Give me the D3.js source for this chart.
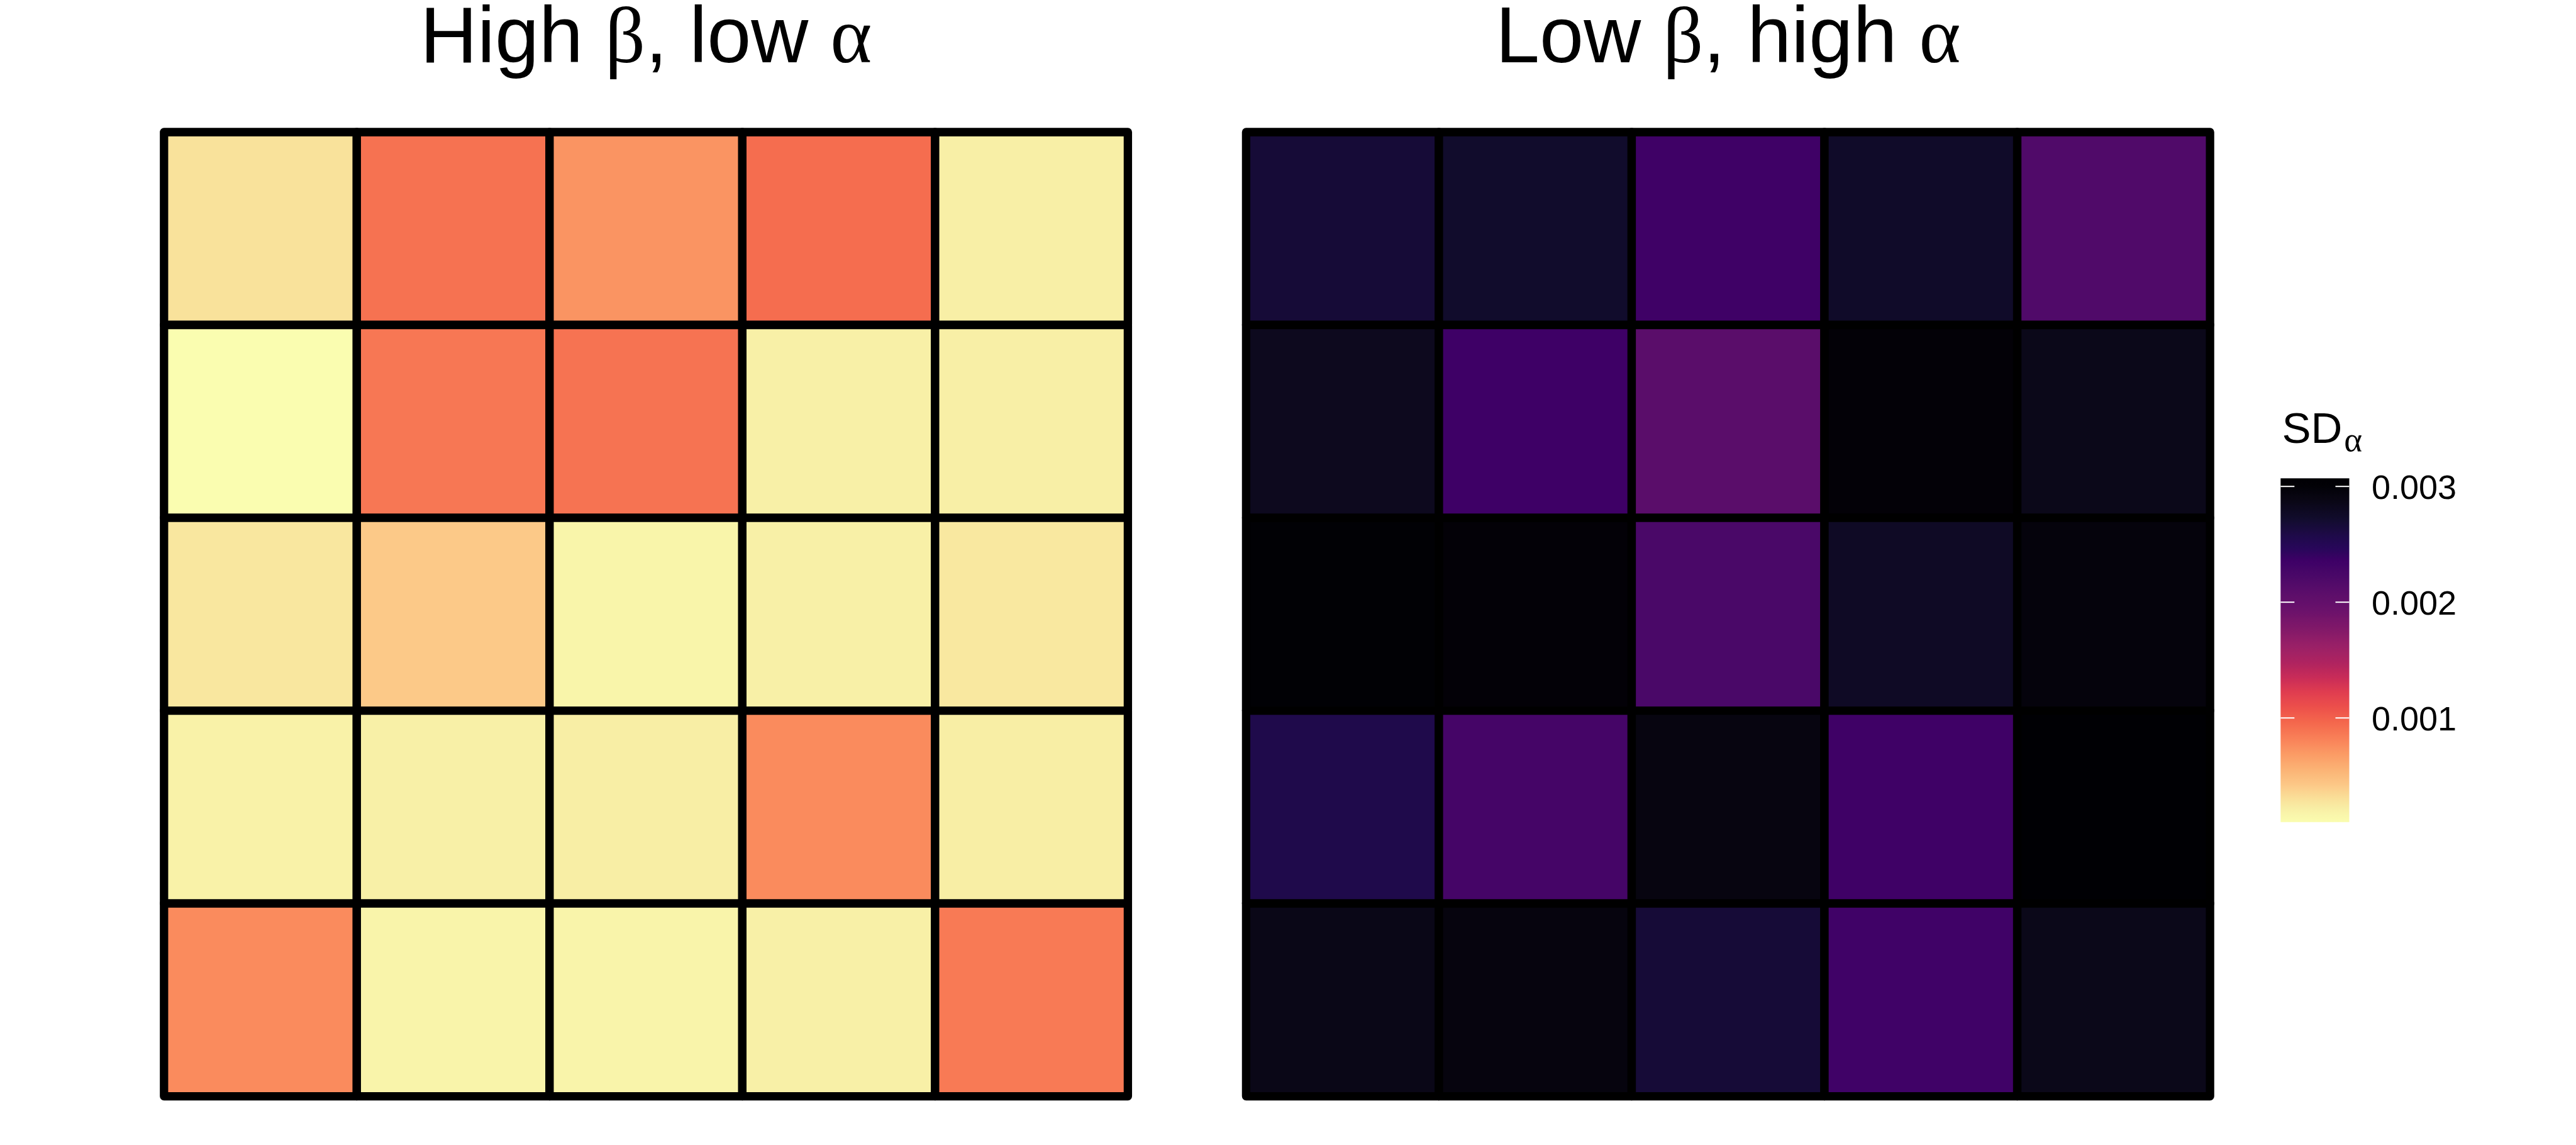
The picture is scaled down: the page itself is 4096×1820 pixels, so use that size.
<!DOCTYPE html>
<html>
<head>
<meta charset="utf-8">
<script src="https://cdn.jsdelivr.net/npm/d3@7"></script>
<style>
  html, body { margin: 0; padding: 0; background: #ffffff; }
  svg { display: block; }
</style>
</head>
<body>
<svg id="chart" width="4096" height="1820"></svg>
<script>
// ---------------- data ----------------
const rowCats = ["1", "2", "3", "4", "5"];   // top to bottom
const colCats = ["1", "2", "3", "4", "5"];   // left to right

const panelTitles = [
  ["High ", "β", ", low ", "α"],
  ["Low ", "β", ", high ", "α"]
];

// SD_alpha values, panel 1: High beta, low alpha (rows top->bottom)
const highBetaLowAlpha = [
  [0.000287, 0.000902, 0.000724, 0.000926, 0.000213],
  [0.000100, 0.000872, 0.000896, 0.000204, 0.000213],
  [0.000263, 0.000415, 0.000165, 0.000204, 0.000254],
  [0.000189, 0.000204, 0.000219, 0.000768, 0.000219],
  [0.000768, 0.000171, 0.000171, 0.000204, 0.000857]
];

// SD_alpha values, panel 2: Low beta, high alpha
const lowBetaHighAlpha = [
  [0.002669, 0.002728, 0.002342, 0.002743, 0.002179],
  [0.002818, 0.002357, 0.002090, 0.002996, 0.002847],
  [0.003025, 0.002996, 0.002224, 0.002773, 0.002951],
  [0.002565, 0.002283, 0.002922, 0.002342, 0.003070],
  [0.002862, 0.002936, 0.002669, 0.002328, 0.002847]
];

const legendTicks = [0.001, 0.002, 0.003];
const legendTitle = ["SD", "α"];

// colour palette (reversed magma as rendered), light -> dark along the scale
const paletteStops = [0, 0.041, 0.073, 0.106, 0.152, 0.198, 0.244, 0.29, 0.336, 0.382,
  0.421, 0.46, 0.513, 0.565, 0.618, 0.67, 0.716, 0.762, 0.795, 0.828, 0.88, 0.932, 0.978, 1];
const paletteColors = ["#FAFDB0", "#F8EEA5", "#FADD97", "#FCC988", "#FBB375", "#FB9B65",
  "#F98058", "#F4674C", "#EC4F4B", "#DE3B50", "#C82C58", "#B1245F", "#992067", "#801869",
  "#6A116B", "#5A0D6A", "#4A0868", "#3D0066", "#28075A", "#200A4C", "#120C2E", "#0A0716",
  "#020106", "#000004"];

// ---------------- layout ----------------
const W = 4096, H = 1820;
const sansFont = "'Liberation Sans', Arial, Helvetica, sans-serif";
const greekFont = "'Liberation Serif', 'Times New Roman', serif";

const panels = [
  { title: panelTitles[0], values: highBetaLowAlpha, x0: 260.8, x1: 1793.4 },
  { title: panelTitles[1], values: lowBetaHighAlpha, x0: 1981.4, x1: 3514.1 }
];
const y0 = 210.0, y1 = 1742.6;
const strokeW = 13.3;

const allVals = highBetaLowAlpha.flat().concat(lowBetaHighAlpha.flat());
const extent = d3.extent(allVals);

const color = d3.scaleLinear()
  .domain(paletteStops.map(f => extent[0] + f * (extent[1] - extent[0])))
  .range(paletteColors)
  .interpolate(d3.interpolateRgb)
  .clamp(true);

const svg = d3.select("#chart");
svg.append("rect").attr("width", W).attr("height", H).attr("fill", "#ffffff");

panels.forEach(p => {
  const x = d3.scaleBand().domain(colCats).range([p.x0, p.x1]).padding(0);
  const y = d3.scaleBand().domain(rowCats).range([y0, y1]).padding(0);

  const cells = [];
  rowCats.forEach((r, i) => colCats.forEach((c, j) => cells.push({ r, c, v: p.values[i][j] })));

  const g = svg.append("g");
  g.selectAll("rect.tile")
    .data(cells)
    .join("rect")
    .attr("class", "tile")
    .attr("x", d => x(d.c))
    .attr("y", d => y(d.r))
    .attr("width", x.bandwidth())
    .attr("height", y.bandwidth())
    .attr("fill", d => color(d.v))
    .attr("stroke", "#000000")
    .attr("stroke-width", strokeW)
    .attr("stroke-linejoin", "round");

  const t = svg.append("text")
    .attr("x", (p.x0 + p.x1) / 2)
    .attr("y", 98.5)
    .attr("text-anchor", "middle")
    .attr("font-family", sansFont)
    .attr("font-size", 126)
    .attr("fill", "#000000");
  p.title.forEach((s, k) => {
    t.append("tspan")
      .attr("font-family", k % 2 === 1 ? greekFont : sansFont)
      .text(s);
  });
});

// ---------------- legend ----------------
const barX = 3626.3, barW = 109.2, barTop = 760.3, barBot = 1306.8;
const lScale = d3.scaleLinear().domain(extent).range([barBot, barTop]);

const defs = svg.append("defs");
const grad = defs.append("linearGradient")
  .attr("id", "legGrad")
  .attr("x1", 0).attr("y1", 1).attr("x2", 0).attr("y2", 0);
d3.range(0, 101).forEach(k => {
  const f = k / 100;
  grad.append("stop")
    .attr("offset", f)
    .attr("stop-color", color(extent[0] + f * (extent[1] - extent[0])));
});

svg.append("rect")
  .attr("x", barX).attr("y", barTop)
  .attr("width", barW).attr("height", barBot - barTop)
  .attr("fill", "url(#legGrad)");

const tickLen = 22;
const tg = svg.append("g");
legendTicks.forEach(v => {
  tg.append("line")
    .attr("x1", barX).attr("x2", barX + tickLen)
    .attr("y1", lScale(v)).attr("y2", lScale(v))
    .attr("stroke", "#ffffff").attr("stroke-width", 2);
  tg.append("line")
    .attr("x1", barX + barW - tickLen).attr("x2", barX + barW)
    .attr("y1", lScale(v)).attr("y2", lScale(v))
    .attr("stroke", "#ffffff").attr("stroke-width", 2);
});

const axisG = svg.append("g")
  .attr("transform", `translate(${barX + barW},0)`)
  .call(d3.axisRight(lScale)
    .tickValues(legendTicks)
    .tickSize(0)
    .tickPadding(3771 - (barX + barW))
    .tickFormat(d3.format(".3f")));
axisG.select(".domain").remove();
axisG.selectAll("text")
  .attr("font-family", sansFont)
  .attr("font-size", 54)
  .attr("fill", "#000000")
  .attr("dy", "0.36em");

const lt = svg.append("text")
  .attr("x", 3628.5)
  .attr("y", 704)
  .attr("font-family", sansFont)
  .attr("font-size", 69)
  .attr("fill", "#000000");
lt.append("tspan").text(legendTitle[0]);
lt.append("tspan")
  .attr("font-family", greekFont)
  .attr("font-size", 55)
  .attr("dx", 3)
  .attr("dy", 13)
  .text(legendTitle[1]);
</script>
</body>
</html>
